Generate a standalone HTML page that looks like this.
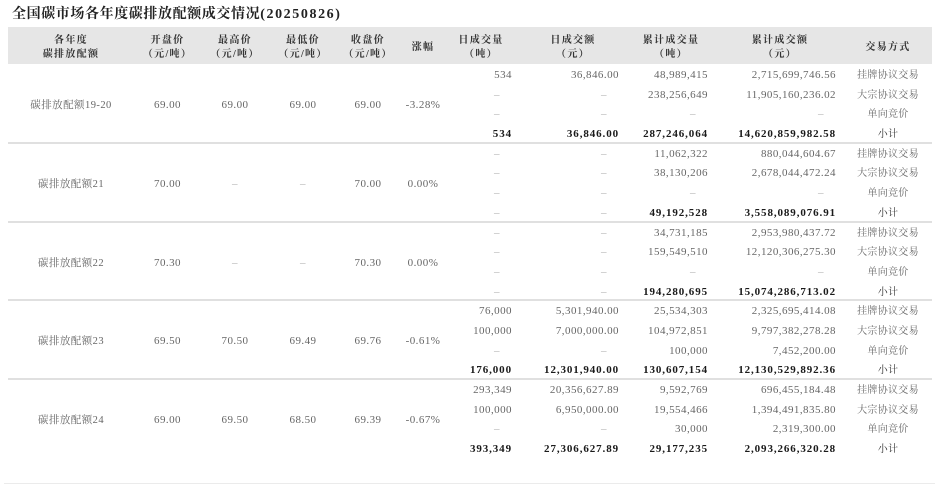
<!DOCTYPE html>
<html><head><meta charset="utf-8">
<style>
*{margin:0;padding:0;box-sizing:border-box}
html,body{width:943px;height:498px;background:#fff;overflow:hidden}
body{position:relative;font-family:"Liberation Serif","Noto Serif CJK SC",serif;color:#666}
.title{position:absolute;left:12px;top:6px;font-size:14px;line-height:18px;font-weight:bold;color:#222;white-space:nowrap;letter-spacing:0.6px;font-family:"Liberation Serif","Noto Serif CJK SC",serif}
.title .num{letter-spacing:1.6px}
.hdr{position:absolute;left:8px;top:27px;width:924px;height:37px;background:#e6e6e6}
.h{position:absolute;font-size:10px;line-height:13.5px;font-weight:bold;color:#333;text-align:center;letter-spacing:1.3px;white-space:nowrap;font-family:"Liberation Serif","Noto Serif CJK SC",serif}
.sep{position:absolute;left:8px;width:924px;height:2px;background:#e0e0e0}
.bot{position:absolute;left:4px;top:483px;width:931px;height:1px;background:#ebebeb}
.g{position:absolute;left:0;width:943px;height:79px;line-height:79px;font-size:11px;white-space:nowrap}
.g span{position:absolute;text-align:center;top:0;letter-spacing:0.45px}
.c1{left:8px;width:126px;font-size:10.5px}
.c2{left:134px;width:67px}
.c3{left:201px;width:68px}
.c4{left:269px;width:68px}
.c5{left:337px;width:62px}
.c6{left:399px;width:48px}
.row{position:absolute;left:0;width:943px;height:19.7px;line-height:19.7px;font-size:11px;white-space:nowrap}
.row span{position:absolute;top:0;letter-spacing:0.45px}
.n7{right:431px}
.n8{right:324px}
.n9{right:235px}
.n10{right:107px}
.t{left:845px;width:86px;text-align:center;font-size:10px;letter-spacing:0.3px!important;color:#666}
.d{padding-right:12px;color:#aaa}
.b span{font-weight:bold;color:#1a1a1a;letter-spacing:0.9px}
.b span.d{font-weight:normal;color:#aaa;letter-spacing:0.45px}
.b span.t{font-weight:normal;color:#333}
.dash{color:#aaa}
</style></head><body>
<div class="title">全国碳市场各年度碳排放配额成交情况<span class="num">(20250826)</span></div>
<div class="hdr"></div>
<div class="h" style="left:8px;width:126px;top:34px">各年度<br>碳排放配额</div>
<div class="h" style="left:134px;width:67px;top:34px">开盘价<br>（元/吨）</div>
<div class="h" style="left:201px;width:68px;top:34px">最高价<br>（元/吨）</div>
<div class="h" style="left:269px;width:68px;top:34px">最低价<br>（元/吨）</div>
<div class="h" style="left:337px;width:62px;top:34px">收盘价<br>（元/吨）</div>
<div class="h" style="left:399px;width:48px;top:41px">涨幅</div>
<div class="h" style="left:441px;width:80px;top:34px">日成交量<br>（吨）</div>
<div class="h" style="left:533px;width:80px;top:34px">日成交额<br>（元）</div>
<div class="h" style="left:621px;width:100px;top:34px">累计成交量<br>（吨）</div>
<div class="h" style="left:730px;width:100px;top:34px">累计成交额<br>（元）</div>
<div class="h" style="left:845px;width:86px;top:41px">交易方式</div>

<!-- Group 1 -->
<div class="g" style="top:66px"><span class="c1">碳排放配额19-20</span><span class="c2">69.00</span><span class="c3">69.00</span><span class="c4">69.00</span><span class="c5">69.00</span><span class="c6">-3.28%</span></div>
<div class="row" style="top:66px"><span class="n7">534</span><span class="n8">36,846.00</span><span class="n9">48,989,415</span><span class="n10">2,715,699,746.56</span><span class="t">挂牌协议交易</span></div>
<div class="row" style="top:85.7px"><span class="n7 d">–</span><span class="n8 d">–</span><span class="n9">238,256,649</span><span class="n10">11,905,160,236.02</span><span class="t">大宗协议交易</span></div>
<div class="row" style="top:105.4px"><span class="n7 d">–</span><span class="n8 d">–</span><span class="n9 d">–</span><span class="n10 d">–</span><span class="t">单向竞价</span></div>
<div class="row b" style="top:125.1px"><span class="n7">534</span><span class="n8">36,846.00</span><span class="n9">287,246,064</span><span class="n10">14,620,859,982.58</span><span class="t">小计</span></div>

<div class="sep" style="top:141.75px"></div>
<!-- Group 2 -->
<div class="g" style="top:144.75px"><span class="c1">碳排放配额21</span><span class="c2">70.00</span><span class="c3 dash">–</span><span class="c4 dash">–</span><span class="c5">70.00</span><span class="c6">0.00%</span></div>
<div class="row" style="top:144.75px"><span class="n7 d">–</span><span class="n8 d">–</span><span class="n9">11,062,322</span><span class="n10">880,044,604.67</span><span class="t">挂牌协议交易</span></div>
<div class="row" style="top:164.45px"><span class="n7 d">–</span><span class="n8 d">–</span><span class="n9">38,130,206</span><span class="n10">2,678,044,472.24</span><span class="t">大宗协议交易</span></div>
<div class="row" style="top:184.15px"><span class="n7 d">–</span><span class="n8 d">–</span><span class="n9 d">–</span><span class="n10 d">–</span><span class="t">单向竞价</span></div>
<div class="row b" style="top:203.85px"><span class="n7 d">–</span><span class="n8 d">–</span><span class="n9">49,192,528</span><span class="n10">3,558,089,076.91</span><span class="t">小计</span></div>

<div class="sep" style="top:220.5px"></div>
<!-- Group 3 -->
<div class="g" style="top:223.5px"><span class="c1">碳排放配额22</span><span class="c2">70.30</span><span class="c3 dash">–</span><span class="c4 dash">–</span><span class="c5">70.30</span><span class="c6">0.00%</span></div>
<div class="row" style="top:223.5px"><span class="n7 d">–</span><span class="n8 d">–</span><span class="n9">34,731,185</span><span class="n10">2,953,980,437.72</span><span class="t">挂牌协议交易</span></div>
<div class="row" style="top:243.2px"><span class="n7 d">–</span><span class="n8 d">–</span><span class="n9">159,549,510</span><span class="n10">12,120,306,275.30</span><span class="t">大宗协议交易</span></div>
<div class="row" style="top:262.9px"><span class="n7 d">–</span><span class="n8 d">–</span><span class="n9 d">–</span><span class="n10 d">–</span><span class="t">单向竞价</span></div>
<div class="row b" style="top:282.6px"><span class="n7 d">–</span><span class="n8 d">–</span><span class="n9">194,280,695</span><span class="n10">15,074,286,713.02</span><span class="t">小计</span></div>

<div class="sep" style="top:299.25px"></div>
<!-- Group 4 -->
<div class="g" style="top:302.25px"><span class="c1">碳排放配额23</span><span class="c2">69.50</span><span class="c3">70.50</span><span class="c4">69.49</span><span class="c5">69.76</span><span class="c6">-0.61%</span></div>
<div class="row" style="top:302.25px"><span class="n7">76,000</span><span class="n8">5,301,940.00</span><span class="n9">25,534,303</span><span class="n10">2,325,695,414.08</span><span class="t">挂牌协议交易</span></div>
<div class="row" style="top:321.95px"><span class="n7">100,000</span><span class="n8">7,000,000.00</span><span class="n9">104,972,851</span><span class="n10">9,797,382,278.28</span><span class="t">大宗协议交易</span></div>
<div class="row" style="top:341.65px"><span class="n7 d">–</span><span class="n8 d">–</span><span class="n9">100,000</span><span class="n10">7,452,200.00</span><span class="t">单向竞价</span></div>
<div class="row b" style="top:361.35px"><span class="n7">176,000</span><span class="n8">12,301,940.00</span><span class="n9">130,607,154</span><span class="n10">12,130,529,892.36</span><span class="t">小计</span></div>

<div class="sep" style="top:378px"></div>
<!-- Group 5 -->
<div class="g" style="top:381px"><span class="c1">碳排放配额24</span><span class="c2">69.00</span><span class="c3">69.50</span><span class="c4">68.50</span><span class="c5">69.39</span><span class="c6">-0.67%</span></div>
<div class="row" style="top:381px"><span class="n7">293,349</span><span class="n8">20,356,627.89</span><span class="n9">9,592,769</span><span class="n10">696,455,184.48</span><span class="t">挂牌协议交易</span></div>
<div class="row" style="top:400.7px"><span class="n7">100,000</span><span class="n8">6,950,000.00</span><span class="n9">19,554,466</span><span class="n10">1,394,491,835.80</span><span class="t">大宗协议交易</span></div>
<div class="row" style="top:420.4px"><span class="n7 d">–</span><span class="n8 d">–</span><span class="n9">30,000</span><span class="n10">2,319,300.00</span><span class="t">单向竞价</span></div>
<div class="row b" style="top:440.1px"><span class="n7">393,349</span><span class="n8">27,306,627.89</span><span class="n9">29,177,235</span><span class="n10">2,093,266,320.28</span><span class="t">小计</span></div>

<div class="bot"></div>
</body></html>
